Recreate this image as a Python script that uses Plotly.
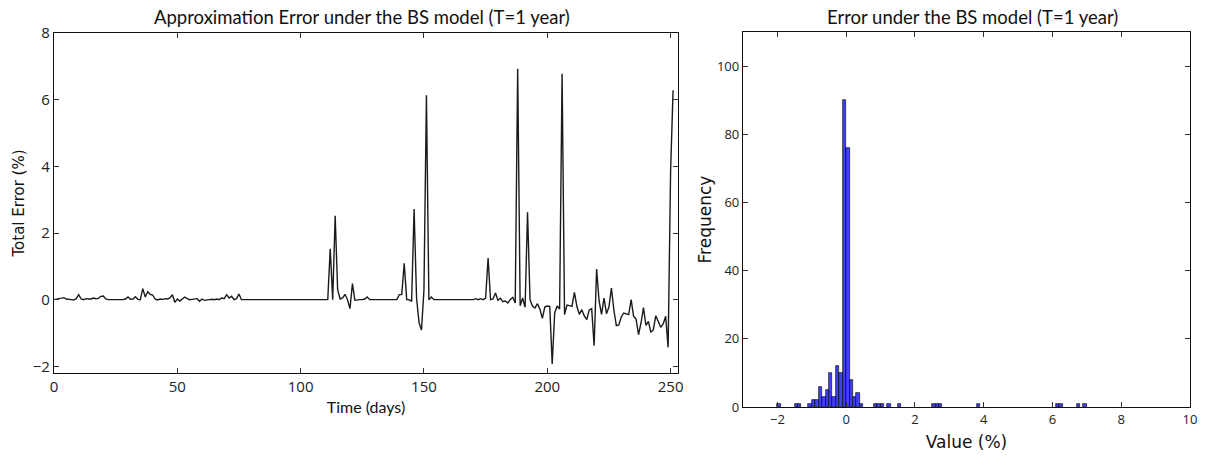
"""Approximation error under the BS model: daily series and histogram."""

import plotly.graph_objects as go
from plotly.subplots import make_subplots

# daily total error (%), day 0 .. 251
total_error = [
    0.00, 0.02, 0.03, 0.05, 0.06, 0.02, 0.00, 0.00, -0.01, 0.03,
    0.15, 0.02, 0.00, 0.03, 0.02, 0.02, 0.05, 0.03, 0.04, 0.10,
    0.11, 0.02, 0.00, 0.00, -0.01, 0.00, 0.00, -0.01, 0.00, 0.02,
    0.08, 0.01, 0.02, 0.09, 0.01, 0.00, 0.33, 0.08, 0.24, 0.16,
    0.14, 0.02, -0.01, 0.02, 0.01, 0.03, 0.02, 0.05, 0.15, -0.08,
    0.02, -0.04, 0.01, 0.08, 0.03, 0.00, 0.01, 0.02, 0.03, -0.05,
    0.02, -0.02, 0.00, 0.00, 0.01, 0.00, 0.02, 0.00, 0.05, 0.03,
    0.15, 0.05, 0.10, 0.00, 0.03, 0.17,
    0.00, 0.00, 0.00, 0.00, 0.00, 0.00, 0.00, 0.00, 0.00, 0.00,
    0.00, 0.00, 0.00, 0.00, 0.00, 0.00, 0.00, 0.00, 0.00, 0.00,
    0.00, 0.00, 0.00, 0.00, 0.00, 0.00, 0.00, 0.00, 0.00, 0.00,
    0.00, 0.00, 0.00, 0.00, 0.00,
    0.00, 1.53, 0.00, 2.52, 0.30, 0.02, 0.05, 0.16, 0.00, -0.27,
    0.48, -0.02, 0.00, 0.00, 0.00, 0.02, 0.08, 0.00,
    0.00, 0.00, 0.00, 0.00, 0.00, 0.00, 0.00, 0.00, 0.00, 0.00, 0.00,
    0.15, 0.15, 1.09, 0.00, 0.00, -0.05, 2.72, 0.05, -0.69, -0.91,
    0.30, 6.13, 0.00, 0.08,
    0.00, 0.00, 0.00, 0.00, 0.00, 0.00, 0.00, 0.00, 0.00, 0.00,
    0.00, 0.00, 0.00, 0.00, 0.00, 0.00, 0.00,
    0.03, 0.00, 0.03, 0.00, 0.05, 1.25, 0.00, 0.02, 0.20, -0.02,
    0.04, -0.06, -0.04, -0.10, 0.00, 0.07, -0.10,
    6.93, -0.18, 0.05, -0.23, 2.62, 0.00, -0.19, -0.25, -0.12, -0.28,
    -0.56, -0.22, -0.19, -0.20, -1.93, -0.40, -0.19, -0.28, 6.78, -0.45,
    -0.16, -0.18, -0.20, 0.22, -0.20, -0.44, -0.30, -0.49, -0.60, -0.31,
    -0.27, -1.38, 0.92, -0.04, -0.44, 0.05, -0.42, -0.22, 0.35, -0.31,
    -0.78, -0.76, -0.52, -0.40, -0.42, -0.45, 0.00, -0.50, -0.58, -1.05,
    -0.70, -0.24, -0.77, -0.65, -0.98, -0.90, -0.48, -0.68, -0.83, -0.73,
    -0.50, -1.43, 3.85, 6.28,
]
days = list(range(len(total_error)))

# histogram: left edge of each non-empty bin (%) and its count
BIN_WIDTH = 0.1
bin_starts = [
    -2.0, -1.5, -1.4, -1.1, -1.0, -0.9, -0.8, -0.7, -0.6, -0.5,
    -0.4, -0.3, -0.2, -0.1, 0.0, 0.1, 0.2, 0.3, 0.4, 0.8,
    0.9, 1.0, 1.2, 1.5, 2.5, 2.6, 2.7, 3.8, 6.1, 6.2,
    6.7, 6.9,
]
bin_counts = [
    1, 1, 1, 1, 2, 2, 6, 3, 5, 10,
    3, 12, 10, 90, 76, 8, 3, 4, 1, 1,
    1, 1, 1, 1, 1, 1, 1, 1, 1, 1,
    1, 1,
]

W, H = 1211, 458


def dom_x(a, b):
    return [a / W, b / W]


def dom_y(top, bottom):
    return [(H - bottom) / H, (H - top) / H]


TICK_FONT = dict(family="Open Sans", size=15, color="#222")

fig = make_subplots(rows=1, cols=2)

fig.add_trace(
    go.Scatter(
        x=days,
        y=total_error,
        mode="lines",
        line=dict(color="#1a1a1a", width=1.4),
        showlegend=False,
    ),
    row=1, col=1,
)

fig.add_trace(
    go.Bar(
        x=[s + BIN_WIDTH / 2 for s in bin_starts],
        y=bin_counts,
        width=BIN_WIDTH,
        marker=dict(color="rgba(0, 0, 255, 0.75)", line=dict(color="#111", width=0.7)),
        showlegend=False,
    ),
    row=1, col=2,
)

axis_style = dict(
    showline=True,
    linecolor="#111",
    linewidth=1.3,
    mirror="allticks",
    ticks="inside",
    ticklen=5,
    tickcolor="#333",
    showgrid=False,
    zeroline=False,
    automargin=False,
)

# left panel: pixel box x 54-678, y 33-373
fig.update_xaxes(
    axis_style, domain=dom_x(54, 678), range=[0, 253],
    tickvals=[0, 50, 100, 150, 200, 250], tickfont=TICK_FONT,
    title=dict(text="Time (days)", font=dict(family="Lato", size=16, color="#111"), standoff=6),
    row=1, col=1,
)
fig.update_yaxes(
    axis_style, domain=dom_y(33, 373), range=[-2.2, 8],
    tickvals=[-2, 0, 2, 4, 6, 8], ticktext=["\u22122", "0", "2", "4", "6", "8"],
    tickfont=TICK_FONT,
    title=dict(text="Total Error (%)", font=dict(family="DejaVu Sans", size=15, color="#111"), standoff=4),
    row=1, col=1,
)

# right panel: pixel box x 743-1190, y 32-407
fig.update_xaxes(
    axis_style, domain=dom_x(743, 1190), range=[-3, 10],
    tickvals=[-2, 0, 2, 4, 6, 8, 10], ticktext=["\u22122", "0", "2", "4", "6", "8", "10"],
    tickfont=dict(family="Open Sans", size=13, color="#222"),
    title=dict(text="Value (%)", font=dict(family="DejaVu Sans", size=17, color="#111"), standoff=9),
    row=1, col=2,
)
fig.update_yaxes(
    axis_style, domain=dom_y(32, 407), range=[0, 110],
    tickvals=[0, 20, 40, 60, 80, 100],
    tickfont=dict(family="Open Sans", size=13, color="#222"),
    title=dict(text="Frequency", font=dict(family="DejaVu Sans", size=17, color="#111"), standoff=0),
    row=1, col=2,
)

title_font = dict(family="Lato", size=18.5, color="#111")
title_y = (H - 17) / H
fig.update_layout(
    width=W,
    height=H,
    margin=dict(l=0, r=0, t=0, b=0),
    paper_bgcolor="white",
    plot_bgcolor="white",
    bargap=0,
    annotations=[
        dict(text="Approximation Error under the BS model (T=1 year)", x=362 / W, y=title_y,
             xref="paper", yref="paper", showarrow=False, font=title_font,
             xanchor="center", yanchor="middle"),
        dict(text="Error under the BS model (T=1 year)", x=972 / W, y=title_y,
             xref="paper", yref="paper", showarrow=False, font=title_font,
             xanchor="center", yanchor="middle"),
    ],
)

# drop the default page margin so the figure sits at the window's top-left corner
fig.write_html(
    "out.html",
    config={"displayModeBar": False},
    post_script="document.body.style.margin = '0';",
)
